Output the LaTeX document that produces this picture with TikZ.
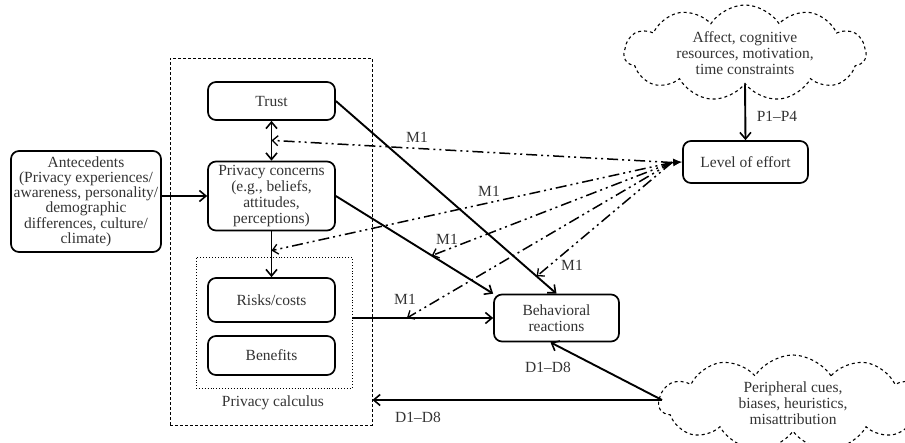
\documentclass[tikz,border=0pt]{standalone}
\usepackage{fontspec}
\setmainfont{Liberation Serif}
\usetikzlibrary{arrows.meta,shapes.symbols,calc}
\definecolor{ink}{HTML}{333333}
\tikzset{
  barb/.tip={Straight Barb[length=6.5pt,width=11pt,line width=1.6pt]},
  smallbarb/.tip={Straight Barb[length=5.5pt,width=10pt,line width=1.3pt]},
  txt/.style={text=ink, font=\fontsize{15.5}{16}\selectfont},
  box/.style={txt, draw, rounded corners=8pt, line width=1.7pt, align=center, inner sep=0pt},
  flow/.style={line width=1.9pt, -{barb}},
  twoway/.style={line width=1.9pt, {barb}-{barb}},
  modline/.style={line width=1.5pt, dash pattern=on 11pt off 4pt on 2pt off 4pt on 2pt off 4pt, -{smallbarb}},
  lbl/.style={txt, inner sep=0pt},
  puff/.style={txt, cloud, cloud puffs=11, cloud puff arc=115, cloud ignores aspect, draw, dashed,
    line width=1.1pt, align=center, inner sep=0pt},
}
\begin{document}
\begin{tikzpicture}[x=1pt,y=-1pt]
\useasboundingbox (0,0) rectangle (905,442);

% grouping frames
\node[draw, dash pattern=on 3pt off 2pt, line width=0.9pt, minimum width=202pt, minimum height=367pt, inner sep=0pt] (model) at (271,241.5) {};
\node[draw, dotted, line width=0.9pt, minimum width=156pt, minimum height=131pt, inner sep=0pt] (calc) at (274,322.5) {};
\node[lbl] (calclbl) at (273,403) {Privacy calculus};

% boxes
\node[box, minimum width=150pt, minimum height=101pt, font=\fontsize{15.5}{15.2}\selectfont] (ante) at (86,201.5)
  {Antecedents\\(Privacy experiences/\\awareness, personality/\\demographic\\differences, culture/\\climate)};
\node[box, minimum width=127pt, minimum height=38pt] (trust) at (271.5,101) {Trust};
\node[box, minimum width=127pt, minimum height=69pt] (pc) at (271.5,196)
  {Privacy concerns\\(e.g., beliefs,\\attitudes,\\perceptions)};
\node[box, minimum width=127pt, minimum height=44pt] (risks) at (271.5,300) {Risks/costs};
\node[box, minimum width=127pt, minimum height=39pt] (benefits) at (271.5,355.5) {Benefits};
\node[box, minimum width=125pt, minimum height=47pt] (beh) at (556.5,318) {Behavioral\\reactions};
\node[box, minimum width=125pt, minimum height=42pt] (effort) at (745.5,162) {Level of effort};

% clouds
\node[puff, minimum width=242pt, minimum height=96pt] (factors) at (745,53)
  {Affect, cognitive\\resources, motivation,\\time constraints};
\node[puff, minimum width=268pt, minimum height=96pt] (cues) at (793,403)
  {Peripheral cues,\\biases, heuristics,\\misattribution};
\coordinate (cuept) at (662,400);
\coordinate (hub) at (672,162.5);

% main paths
\draw[flow] (ante.east |- pc.west) -- (pc.west);
\draw[twoway] (trust.south) -- coordinate[pos=0.49] (tp) (pc.north);
\draw[flow] (pc.south) -- coordinate[pos=0.42] (pr) (risks.north);
\draw[flow] (trust.east) -- coordinate[pos=0.91] (tb) (beh.north);
\draw[flow] (pc.east) -- coordinate[pos=0.61] (pb) (beh.north west);
\draw[flow] (calc.east |- beh.west) -- coordinate[pos=0.387] (rb) (beh.west);
\draw[flow] (factors.south) -- (effort.north);
\draw[flow] (cuept) -- ([xshift=-6pt]beh.south);
\draw[flow] (cuept) -- (model.east |- cuept);

% moderating paths from level of effort
\draw[-{Latex[length=9pt,width=8pt]}, line width=1pt] (hub) -- (effort.west);
\draw[modline] (hub) -- (tp);
\draw[modline] (hub) -- (pr);
\draw[modline] (hub) -- (pb);
\draw[modline] (hub) -- (rb);
\draw[modline] (hub) -- (tb);

% path labels
\node[lbl] (p14) at (777,116) {P1--P4};
\node[lbl] (d18a) at (548,367) {D1--D8};
\node[lbl] (d18b) at (418,417) {D1--D8};
\node[lbl] (m1a) at (417,137) {M1};
\node[lbl] (m1b) at (489,191) {M1};
\node[lbl] (m1c) at (447,239) {M1};
\node[lbl] (m1d) at (405,299) {M1};
\node[lbl] (m1e) at (572,265) {M1};
\end{tikzpicture}
\end{document}
